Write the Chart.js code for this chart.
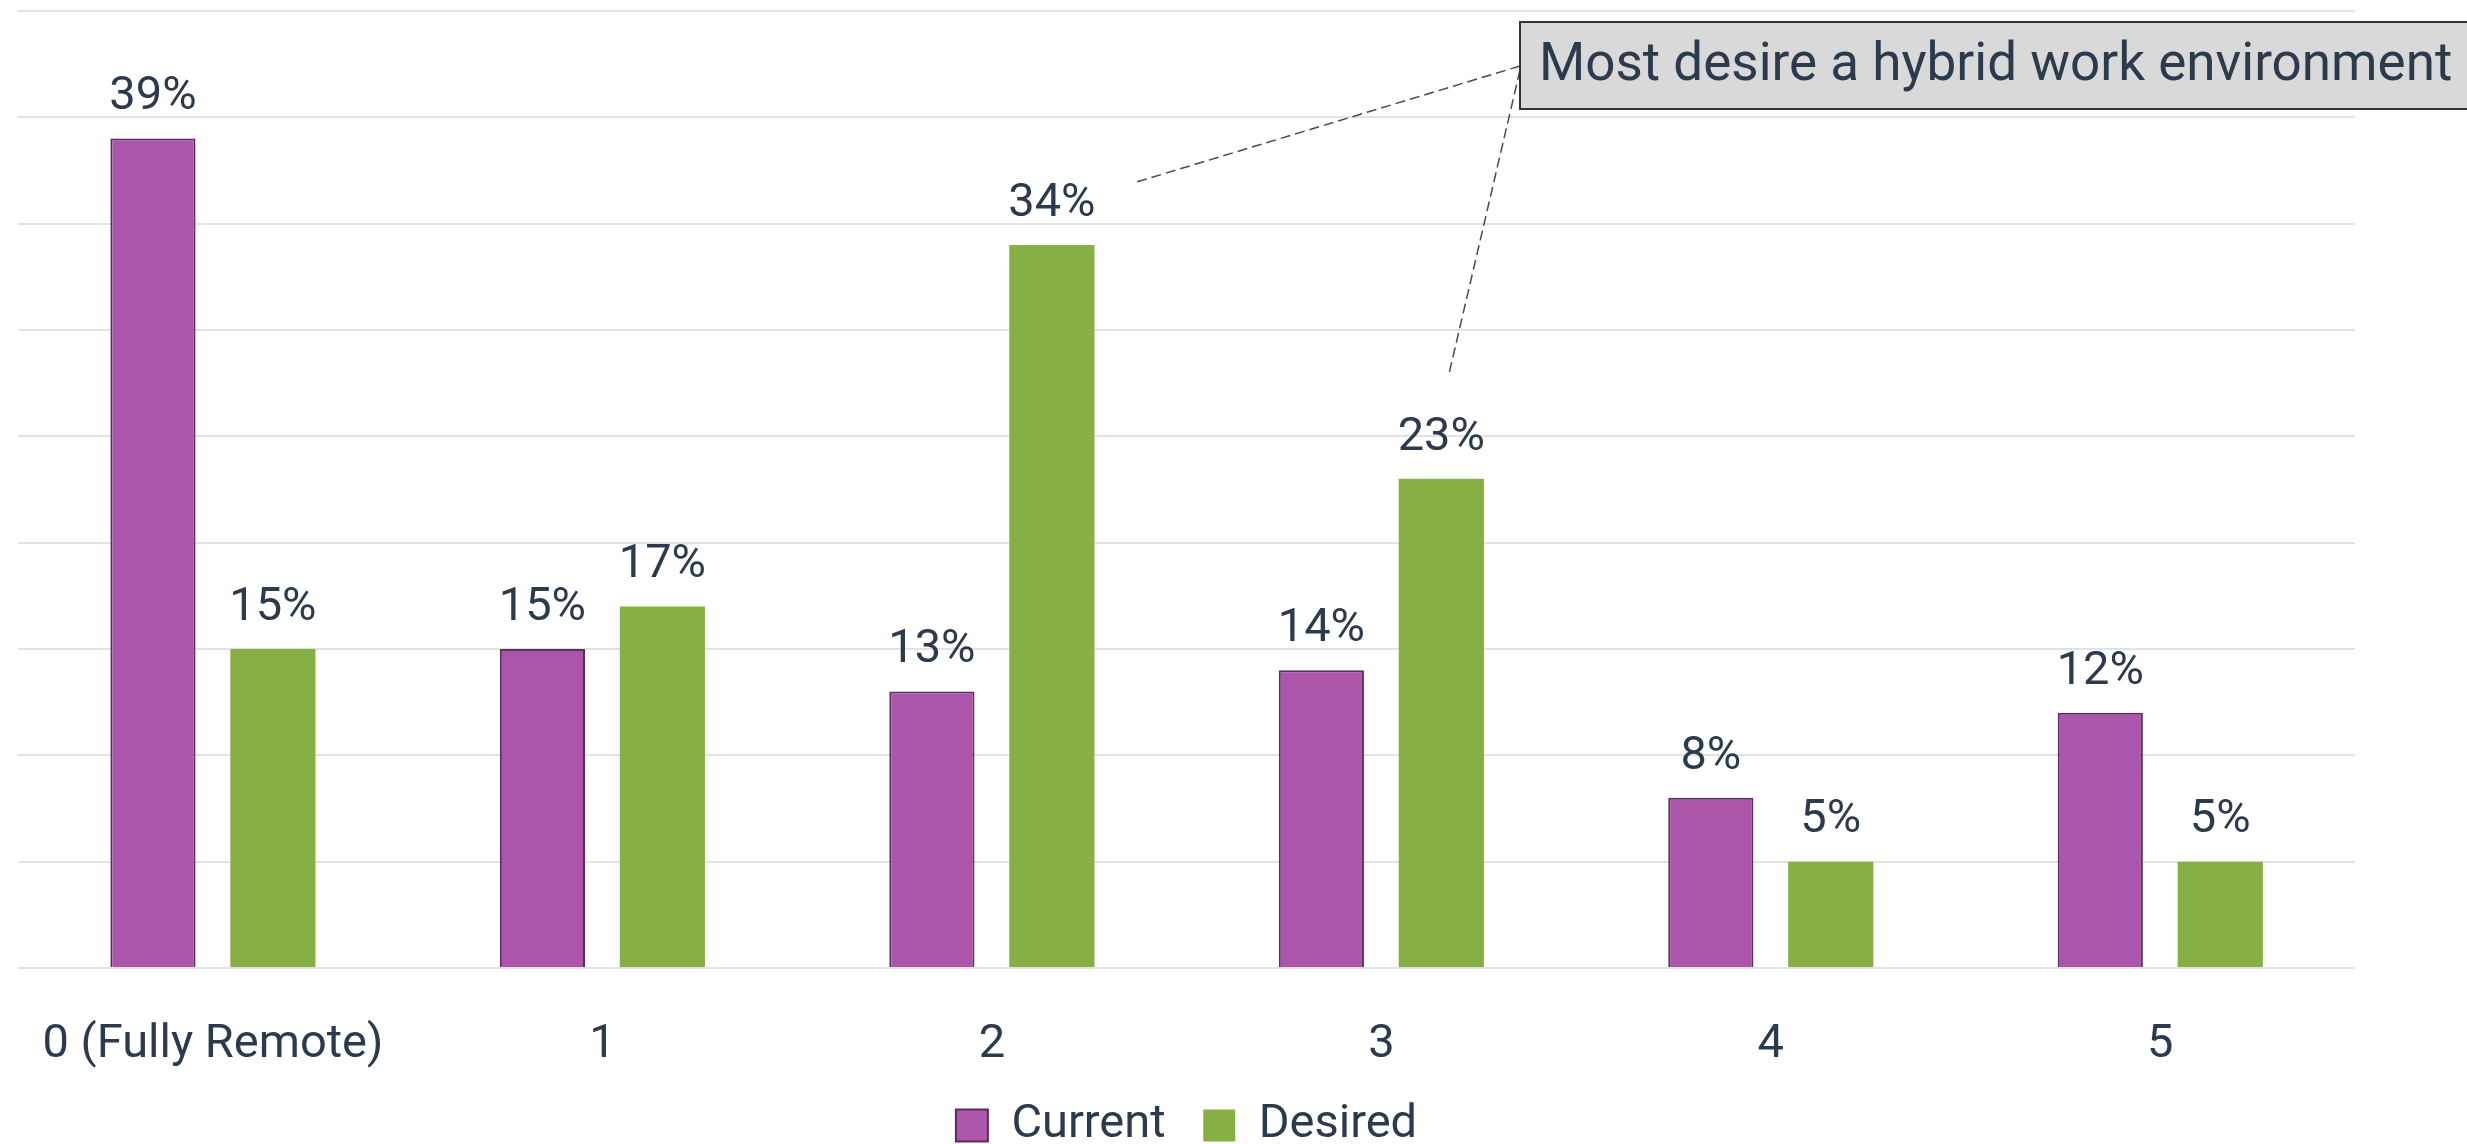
<!DOCTYPE html>
<html>
<head>
<meta charset="utf-8">
<script src="https://cdn.jsdelivr.net/npm/chart.js@4"></script>
<style>
  html, body { margin: 0; padding: 0; background: #fff; }
  #wrap { width: 2467px; height: 1144px; }
</style>
</head>
<body>
<div id="wrap"><canvas id="myChartBar"></canvas></div>
<script>
const labelsBar = ['0 (Fully Remote)', '1', '2', '3', '4', '5'];
const currentData = [39, 15, 13, 14, 8, 12];
const desiredData = [15, 17, 34, 23, 5, 5];
const noteText = 'Most desire a hybrid work environment';

const textColor = '#2b3a4d';
Chart.defaults.font.family = 'Roboto';
Chart.defaults.color = textColor;

// percent labels above each bar
const barLabels = {
  id: 'barLabels',
  afterDatasetsDraw(chart) {
    const ctx = chart.ctx;
    ctx.save();
    ctx.font = '47px Roboto';
    ctx.fillStyle = textColor;
    ctx.textAlign = 'center';
    ctx.textBaseline = 'middle';
    chart.data.datasets.forEach((ds, i) => {
      chart.getDatasetMeta(i).data.forEach((bar, j) => {
        ctx.fillText(ds.data[j] + '%', bar.x, bar.y - 41);
      });
    });
    ctx.restore();
  }
};

// callout box with dashed leader lines
const callout = {
  id: 'callout',
  afterDraw(chart) {
    const ctx = chart.ctx;
    const y = chart.scales.y;
    const desired = chart.getDatasetMeta(1).data;
    const bx = 1520, by = 22, bw = 960, bh = 87;
    ctx.save();
    ctx.strokeStyle = '#4a4a4a';
    ctx.lineWidth = 1.5;
    ctx.setLineDash([10, 5]);
    ctx.beginPath();
    ctx.moveTo(bx, by + 44);
    ctx.lineTo(desired[2].x + desired[2].width / 2 + 38, y.getPixelForValue(36.9));
    ctx.moveTo(bx, by + 48);
    ctx.lineTo(desired[3].x + 8, y.getPixelForValue(28));
    ctx.stroke();
    ctx.setLineDash([]);
    ctx.fillStyle = '#d9d9d9';
    ctx.fillRect(bx, by, bw, bh);
    ctx.strokeStyle = '#333';
    ctx.lineWidth = 2;
    ctx.strokeRect(bx, by, bw, bh);
    ctx.fillStyle = textColor;
    ctx.font = '53px Roboto';
    ctx.textBaseline = 'middle';
    ctx.fillText(noteText, bx + 19, by + bh / 2 + 1);
    ctx.restore();
  }
};

const dataBar = {
  labels: labelsBar,
  datasets: [{
    label: 'Current',
    data: currentData,
    backgroundColor: '#ab55ab',
    borderColor: '#5c2b61',
    borderWidth: 2,
    borderSkipped: 'bottom'
  }, {
    label: 'Desired',
    data: desiredData,
    backgroundColor: '#86b043',
    borderWidth: 0
  }]
};

const configBar = {
  type: 'bar',
  data: dataBar,
  options: {
    responsive: true,
    maintainAspectRatio: false,
    animation: false,
    categoryPercentage: 0.616,
    barPercentage: 0.71,
    layout: { padding: { left: 18, right: 112, top: 11, bottom: -15 } },
    plugins: {
      tooltip: { enabled: false },
      legend: {
        position: 'bottom',
        labels: {
          font: { size: 47 },
          boxWidth: 32,
          boxHeight: 32,
          padding: 26,
          // a little extra room between the two items
          generateLabels: (chart) => Chart.defaults.plugins.legend.labels.generateLabels(chart)
            .map((item, i) => (i === 0 ? { ...item, text: item.text + ' ' } : item))
        }
      }
    },
    scales: {
      x: {
        grid: { display: false },
        border: { display: false },
        ticks: { font: { size: 47 }, padding: 41 },
        afterFit: (scale) => { scale.height = 108; }
      },
      y: {
        min: 0,
        max: 45,
        ticks: { display: false, stepSize: 5 },
        border: { display: false },
        grid: { color: '#e2e2e2', lineWidth: 2, drawTicks: false }
      }
    }
  },
  plugins: [barLabels, callout]
};

var myChartBar = new Chart(
  document.getElementById('myChartBar'),
  configBar
);
</script>
</body>
</html>
